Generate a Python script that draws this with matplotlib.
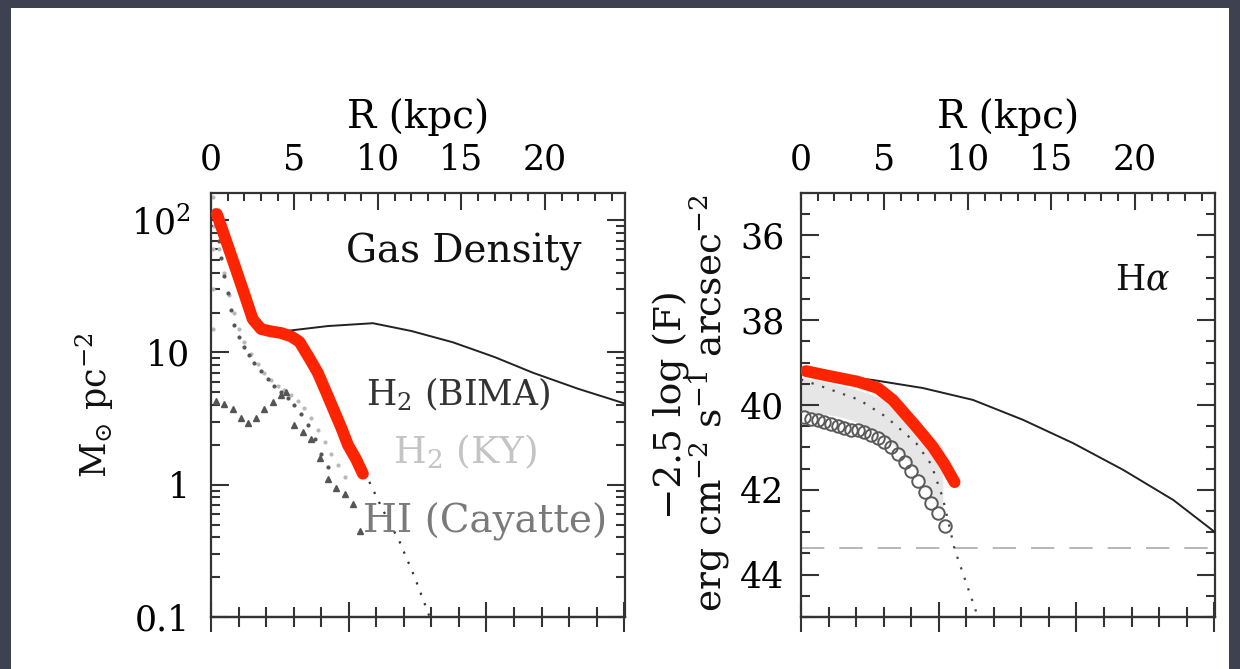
import numpy as np
import matplotlib
matplotlib.use('Agg')
import matplotlib.pyplot as plt
from matplotlib.ticker import MultipleLocator, FixedLocator, FixedFormatter, LogLocator, NullFormatter
from matplotlib.patches import Rectangle

# %% Radial profiles, R in kpc

# gas surface density (Msun pc^-2)
gas_r = [0.35, 0.9, 1.45, 2.0, 2.5, 3.0, 3.6, 4.2, 4.8, 5.3, 5.9, 6.4, 6.9, 7.3, 7.8, 8.2, 8.7, 9.1]
gas_s = [111, 70, 44, 27.5, 17.8, 15.0, 14.4, 14.0, 13.2, 12.0, 9.0, 7.0, 5.0, 3.8, 2.7, 2.0, 1.55, 1.21]

gas_model_r = [2.9, 4.7, 7.0, 9.7, 12.0, 14.5, 17.0, 19.3, 22.0, 24.8]
gas_model_s = [14.9, 14.6, 15.8, 16.6, 14.5, 11.9, 9.2, 7.0, 5.3, 4.1]

gas_tail_r = [9.2, 10.2, 11.3, 12.2, 13.1]
gas_tail_s = [1.25, 0.68, 0.37, 0.2, 0.1]

bima_r = [0.15, 0.3, 0.45, 0.6, 0.8, 1.0, 1.2, 1.4, 1.7, 2.0, 2.3, 2.6, 3.0, 3.4, 3.8, 4.2, 4.6, 5.0, 5.4, 5.8, 6.2, 6.6, 7.0]
bima_s = [120, 95, 70, 52, 38, 28, 21, 16, 13, 11, 9.5, 8.3, 7.2, 6.3, 5.6, 5.0, 4.5, 4.0, 3.4, 2.8, 2.2, 1.7, 1.35]

ky_r = [0.1, 0.1, 0.1, 0.1, 0.2, 0.5, 0.8, 1.1, 1.4, 1.7, 2.0, 2.4, 2.8, 3.2, 3.6, 4.0, 4.4, 4.8, 5.2, 5.6, 6.0, 6.4, 6.8, 7.2, 7.6, 8.0]
ky_s = [150, 60, 30, 15, 90, 60, 40, 27, 20, 15, 12, 9.8, 8.2, 7.0, 6.2, 5.6, 5.2, 4.8, 4.3, 3.8, 3.2, 2.6, 2.1, 1.7, 1.4, 1.15]

hi_r = [0.3, 0.8, 1.3, 1.8, 2.2, 2.7, 3.2, 3.7, 4.2, 4.5, 5.0, 5.5, 6.0, 6.5, 7.0, 7.5, 8.0, 8.5, 8.9]
hi_s = [4.3, 4.1, 3.7, 3.2, 2.9, 3.2, 3.7, 4.2, 4.8, 5.0, 2.8, 2.5, 2.2, 1.6, 1.1, 0.95, 0.85, 0.72, 0.45]

# H-alpha surface brightness, -2.5 log(F)
ha_r = [0.3, 1.5, 3.4, 4.6, 5.5, 6.1, 6.7, 7.3, 7.9, 8.6, 9.2]
ha_v = [39.2, 39.3, 39.45, 39.6, 39.88, 40.15, 40.42, 40.7, 40.99, 41.4, 41.82]

ha_model_r = [0.1, 2.0, 4.3, 7.3, 10.3, 13.3, 16.3, 19.3, 22.3, 24.8]
ha_model_v = [39.22, 39.3, 39.41, 39.6, 39.88, 40.35, 40.9, 41.53, 42.24, 43.0]

ha_band_r = [0, 1, 2, 3, 4, 5, 6, 7, 7.8, 8.5]
ha_band_hi = [39.35, 39.42, 39.5, 39.6, 39.72, 39.88, 40.1, 40.4, 40.7, 41.0]
ha_band_lo = [40.15, 40.2, 40.25, 40.35, 40.5, 40.75, 41.1, 41.6, 42.1, 42.5]

ha_fit_r = [0, 1.3, 3.5, 5.1, 6.9, 7.8, 8.5, 9.2, 9.9, 10.6]
ha_fit_v = [39.4, 39.57, 39.88, 40.28, 40.9, 41.4, 42.2, 43.4, 44.2, 45.0]

ha_obs_r = [0.2, 0.6, 1.0, 1.4, 1.8, 2.2, 2.6, 3.0, 3.4, 3.8, 4.2, 4.6, 5.0, 5.4, 5.8, 6.2, 6.6, 7.0, 7.4, 7.8, 8.2, 8.6]
ha_obs_v = [40.28, 40.32, 40.36, 40.40, 40.44, 40.50, 40.54, 40.58, 40.60, 40.64, 40.70, 40.78, 40.88, 41.00, 41.15, 41.35,
            41.55, 41.80, 42.05, 42.30, 42.55, 42.85]

ha_limit = 43.37

gas_yticks = [0.1, 1, 10, 100]
gas_yticklabels = ['0.1', '1', '10', '$10^2$']
ha_yticks = [36, 38, 40, 42, 44]
r_ticks = [0, 5, 10, 15, 20]

RMAX = 24.8
KPC_PER_UNIT = 1.65   # scale of the lower axis

# %% Style

plt.rcParams.update({'font.family': 'DejaVu Serif',
                     'mathtext.fontset': 'dejavuserif',
                     'font.size': 24,
                     'axes.linewidth': 1.6,
                     'axes.edgecolor': '#333333'})
ink = '#333333'
red = '#ff2400'

fig = plt.figure(figsize=(12.4, 6.69), dpi=100)
fig.patch.set_facecolor('#3e4250')
fig.patches.append(Rectangle((11/1240, 0), 1218/1240, 661/669, transform=fig.transFigure,
                             facecolor='white', edgecolor='none', zorder=-10))

ax1 = fig.add_axes([211/1240, 52/669, 414/1240, 424/669])
ax2 = fig.add_axes([801/1240, 52/669, 414/1240, 424/669])


def style_axes(ax, ypad):
    ax.set_xlim(0, RMAX)
    ax.xaxis.set_ticks_position('top')
    ax.xaxis.set_label_position('top')
    ax.set_xticks(r_ticks)
    ax.xaxis.set_minor_locator(MultipleLocator(1))
    ax.tick_params(axis='x', which='both', direction='in', color=ink, width=1.5, pad=12, labelsize=25)
    ax.tick_params(axis='x', which='major', length=12)
    ax.tick_params(axis='x', which='minor', length=6)
    ax.tick_params(axis='y', which='both', direction='in', left=True, right=True, color=ink, width=1.5,
                   pad=ypad, labelsize=25)
    ax.tick_params(axis='y', which='major', length=13)
    ax.tick_params(axis='y', which='minor', length=6.5)
    ax.set_xlabel('R (kpc)', fontsize=28, labelpad=10)
    # lower axis in the other distance unit, unlabelled
    sec = ax.secondary_xaxis('bottom', functions=(lambda r: r / KPC_PER_UNIT, lambda a: a * KPC_PER_UNIT))
    sec.set_xticks([0, 5, 10, 15])
    sec.xaxis.set_minor_locator(MultipleLocator(1))
    sec.tick_params(which='both', direction='inout', labelbottom=False, color=ink, width=1.5)
    sec.tick_params(which='major', length=22)
    sec.tick_params(which='minor', length=14)
    sec.spines['bottom'].set_linewidth(1.6)
    for s in ax.spines.values():
        s.set_linewidth(1.6)


# %% Gas density panel

style_axes(ax1, ypad=15)
ax1.set_yscale('log')
ax1.set_ylim(0.1, 160)
ax1.yaxis.set_major_locator(FixedLocator(gas_yticks))
ax1.yaxis.set_major_formatter(FixedFormatter(gas_yticklabels))
ax1.yaxis.set_minor_locator(LogLocator(base=10, subs=np.arange(2, 10)))
ax1.yaxis.set_minor_formatter(NullFormatter())

ax1.plot(ky_r, ky_s, ls='none', marker='.', ms=4, color='#b8b8b8', zorder=2)
ax1.plot(bima_r, bima_s, ls='none', marker='.', ms=4, color='#555555', zorder=2)
ax1.plot(hi_r, hi_s, ls='none', marker='^', ms=4, color='#555555', zorder=2)
ax1.plot(gas_model_r, gas_model_s, color='#222222', lw=1.4, zorder=3)
ax1.plot(gas_tail_r, gas_tail_s, color='#333333', lw=1.6, ls=(0, (1, 4)), zorder=3)
ax1.plot(gas_r, gas_s, color=red, lw=8.5, solid_capstyle='round', solid_joinstyle='round', zorder=4)

ax1.text(15.15, 57, 'Gas Density', ha='center', va='center', fontsize=28, color='#111111')
ax1.text(14.8, 4.8, 'H$_2$ (BIMA)', ha='center', va='center', fontsize=25, color='#333333')
ax1.text(15.2, 1.78, 'H$_2$ (KY)', ha='center', va='center', fontsize=27, color='#c4c4c4')
ax1.text(16.4, 0.52, 'HI (Cayatte)', ha='center', va='center', fontsize=28, color='#7a7a7a')

fig.text(95/1240, 1 - 405/669, r'M$_{{\odot}}$ pc$^{-2}$', rotation=90, ha='center', va='center',
         fontsize=25, color='#111111')

# %% H-alpha panel

style_axes(ax2, ypad=12)
ax2.set_ylim(45, 35)
ax2.set_yticks(ha_yticks)
ax2.yaxis.set_minor_locator(MultipleLocator(0.5))

ax2.fill_between(ha_band_r, ha_band_hi, ha_band_lo, color='#e6e6e6', lw=0, zorder=1)
ax2.axhline(ha_limit, color='#aaaaaa', lw=1.2, ls=(0, (14, 9)), zorder=2)
ax2.plot(ha_obs_r, ha_obs_v, ls='none', marker='o', ms=9, mfc='none', mec='#5a5a5a', mew=1.4, zorder=3)
ax2.plot(ha_fit_r, ha_fit_v, color='#444444', lw=1.6, ls=(0, (1, 4)), zorder=3)
ax2.plot(ha_model_r, ha_model_v, color='#222222', lw=1.4, zorder=3)
ax2.plot(ha_r, ha_v, color=red, lw=8.5, solid_capstyle='round', solid_joinstyle='round', zorder=4)

ax2.text(22.1, 37.05, r'H$\alpha$', ha='right', va='center', fontsize=25, color='#111111')

fig.text(671/1240, 1 - 405/669, '\u22122.5 log (F)', rotation=90, ha='center', va='center',
         fontsize=27, color='#111111')
fig.text(709/1240, 1 - 403/669, r'erg cm$^{-2}$ s$^{-1}$ arcsec$^{-2}$', rotation=90, ha='center',
         va='center', fontsize=27, color='#111111')

fig.savefig('out.png', dpi=100, facecolor=fig.get_facecolor())
